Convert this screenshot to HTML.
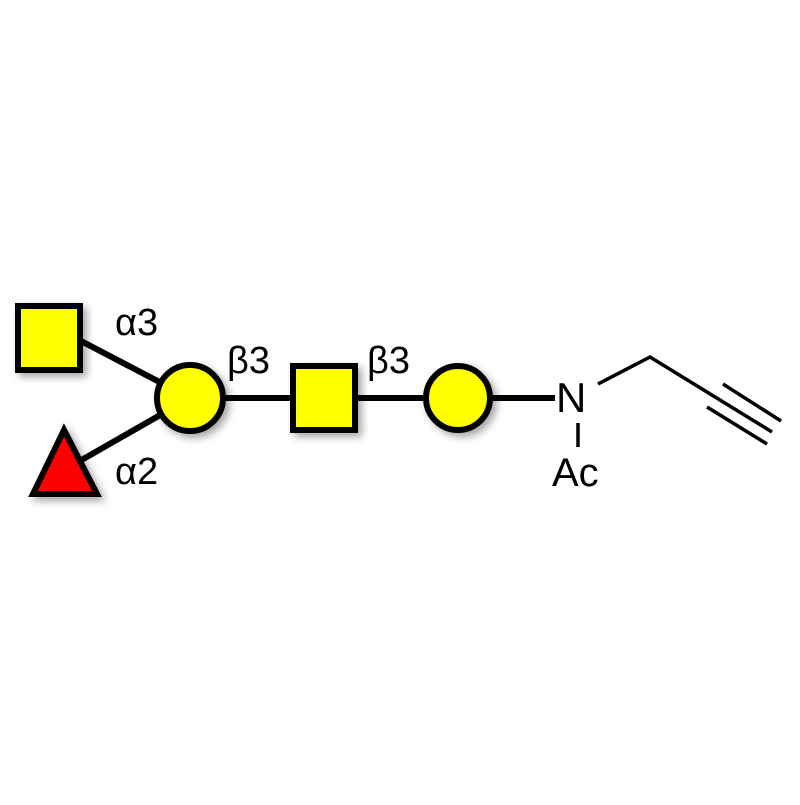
<!DOCTYPE html>
<html><head><style>body{margin:0;background:#fff}</style></head><body>
<svg width="800" height="800" xmlns="http://www.w3.org/2000/svg">
<defs><filter id="s" x="-30%" y="-30%" width="170%" height="170%"><feDropShadow dx="4" dy="4" stdDeviation="4" flood-color="#000" flood-opacity="0.35"/></filter></defs>
<g stroke="#000" stroke-width="6">
<line x1="60" y1="330" x2="190" y2="398"/>
<line x1="64" y1="470" x2="190" y2="398"/>
<line x1="190" y1="398" x2="555" y2="398"/>
</g>
<g stroke="#000" stroke-width="6" filter="url(#s)">
<rect x="18" y="306" width="62" height="64" fill="#ff0"/>
<circle cx="190" cy="398" r="33" fill="#ff0"/>
<rect x="293" y="366" width="62" height="64" fill="#ff0"/>
<circle cx="458" cy="398" r="32" fill="#ff0"/>
<polygon points="64,430 33,494 97,494" fill="#f00"/>
</g>
<g stroke="#000" stroke-width="3.5" fill="none">
<line x1="578" y1="423" x2="578" y2="447"/>
<polyline points="598,384 650,357 772,432"/>
<line x1="723" y1="384" x2="781" y2="421"/>
<line x1="707" y1="407" x2="767" y2="444"/>
</g>
<g font-family="Liberation Sans, sans-serif" font-size="38" fill="#000">
<text x="115" y="335">α3</text>
<text x="115" y="484">α2</text>
<text x="227" y="373">β3</text>
<text x="367" y="373">β3</text>
<text x="556" y="412" font-size="42">N</text>
<text x="552" y="486" font-size="40">Ac</text>
</g>
</svg>
</body></html>
